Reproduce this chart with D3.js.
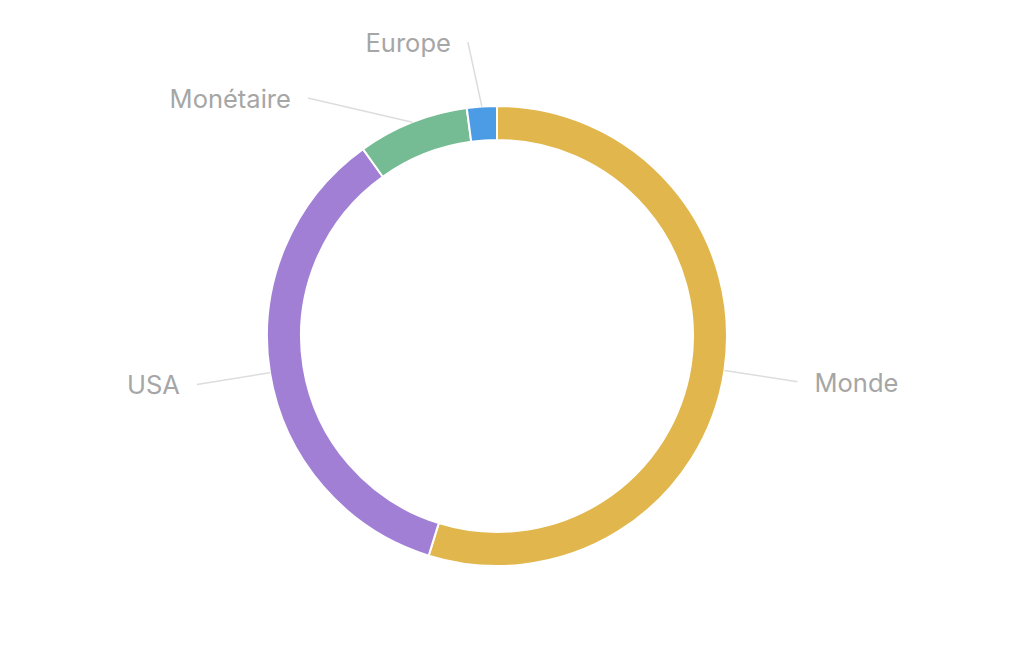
<!DOCTYPE html>
<html><head><meta charset="utf-8">
<script src="https://cdn.jsdelivr.net/npm/d3@7"></script>
<style>html,body{margin:0;padding:0;background:#fff;}svg{display:block;}</style>
</head><body>
<svg id="chart" width="1024" height="651"></svg>
<script>
const categories = ["Monde", "USA", "Monétaire", "Europe"];
const values = [54.8, 35.3, 7.8, 2.1];
const colors = ["#E1B64C", "#A07FD5", "#75BB93", "#4C9BE5"];

const W = 1024, H = 651, cx = 497, cy = 336;
const rOuter = 230, rInner = 196, rLabel = 304, minGap = 56, textGap = 17, topPad = 42;

const svg = d3.select("#chart");
const g = svg.append("g").attr("transform", `translate(${cx},${cy})`);

const data = categories.map((c, i) => ({name: c, value: values[i], color: colors[i]}));
const pie = d3.pie().sort(null).value(d => d.value);
const arcs = pie(data);
const arc = d3.arc().innerRadius(rInner).outerRadius(rOuter);

g.selectAll("path.slice").data(arcs).enter().append("path")
  .attr("class", "slice")
  .attr("d", arc)
  .attr("fill", d => d.data.color)
  .attr("stroke", "#fff")
  .attr("stroke-width", 2);

// label layout: radial end points, keep inside top margin, then resolve overlap per side
const labels = arcs.map(a => {
  const m = (a.startAngle + a.endAngle) / 2;
  let ex = rLabel * Math.sin(m), ey = -rLabel * Math.cos(m);
  const minY = topPad - cy;
  if (ey < minY) { ex = ex * minY / ey * 1.5; ey = minY; }
  return { a, m, sx: rOuter * Math.sin(m), sy: -rOuter * Math.cos(m), ex, ey, right: Math.sin(m) >= 0 };
});
[true, false].forEach(side => {
  const grp = labels.filter(l => l.right === side).sort((p, q) => p.ey - q.ey);
  for (let i = 1; i < grp.length; i++) {
    if (grp[i].ey - grp[i - 1].ey < minGap) {
      grp[i].ey = grp[i - 1].ey + minGap;
      const dx = Math.sqrt(Math.max(0, rLabel * rLabel - grp[i].ey * grp[i].ey));
      grp[i].ex = side ? dx : -dx;
    }
  }
});

g.selectAll("line.lbl").data(labels).enter().append("line")
  .attr("x1", d => d.sx).attr("y1", d => d.sy)
  .attr("x2", d => d.ex).attr("y2", d => d.ey)
  .attr("stroke", "#dddddd").attr("stroke-width", 1.5);

g.selectAll("text.lbl").data(labels).enter().append("text")
  .attr("x", d => d.ex + (d.right ? textGap : -textGap))
  .attr("y", d => d.ey + 3)
  .attr("text-anchor", d => d.right ? "start" : "end")
  .attr("dominant-baseline", "middle")
  .attr("font-family", "Inter, 'Noto Sans', sans-serif")
  .attr("font-size", 25.5)
  .attr("fill", "#a6a6a6")
  .text(d => d.a.data.name);
</script>
</body></html>
